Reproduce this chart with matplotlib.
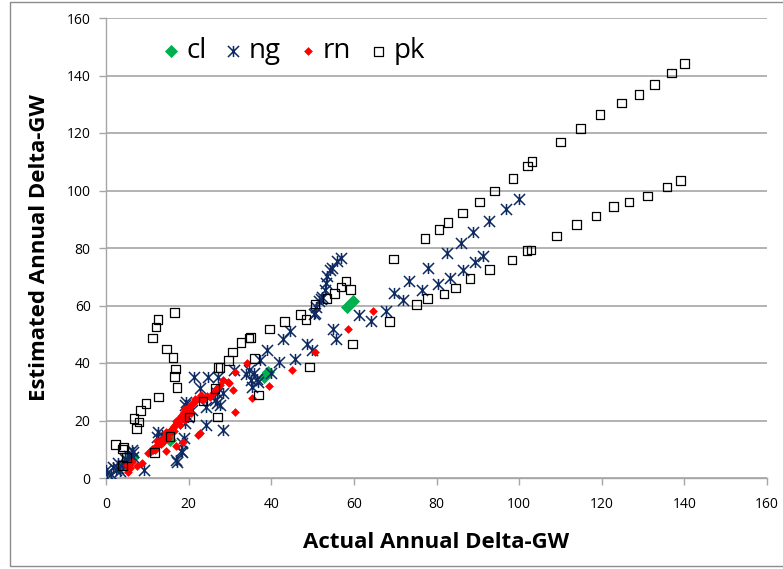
import matplotlib
matplotlib.use("Agg")
import matplotlib.pyplot as plt
from matplotlib.path import Path
from matplotlib.patches import Rectangle

plt.rcParams['font.family'] = ['Open Sans', 'DejaVu Sans']

# cl
cl_x = [58.4, 59.8, 38.3, 39.2, 15.0, 15.5, 6.5, 5.8, 5.1]
cl_y = [59.5, 61.6, 35.2, 36.9, 14.3, 13.2, 7.3, 7.0, 3.8]

# ng
ng_x = [100.0, 96.9, 92.8, 88.8, 86.0, 82.5, 77.9, 73.3, 69.8, 71.8,
        91.3, 89.4, 86.5, 83.2, 80.3, 76.5, 67.8, 64.2, 61.3,
        54.9, 55.7, 48.7, 49.9, 45.8, 41.9, 39.0, 37.3, 35.8, 39.9,
        44.5, 42.9, 36.8, 36.6, 35.4, 34.6, 35.0, 33.9, 31.0,
        56.9, 55.9, 54.8, 54.2, 53.4, 53.3, 52.9, 52.2, 51.6, 52.1,
        50.8, 50.3, 50.6,
        27.1, 24.7, 21.3, 22.8, 26.4, 27.6, 19.1, 20.8, 26.9, 28.3,
        24.2, 26.9, 19.4, 28.3, 24.2, 19.1, 19.9, 18.9, 18.4, 17.2,
        16.9, 18.2, 18.4, 12.6, 12.3, 13.6, 9.2, 6.5, 5.1, 6.3,
        6.5, 0.2, 1.7, 2.9, 4.1, 3.4, 0.0, 1.2, 2.5, 4.5, 5.5, 3.0]
ng_y = [97.0, 93.5, 89.5, 85.7, 81.6, 78.2, 73.1, 68.6, 64.5, 61.9,
        77.1, 75.0, 72.5, 69.6, 67.5, 65.5, 58.0, 54.5, 56.6,
        51.7, 48.3, 46.5, 44.5, 41.4, 40.5, 44.5, 41.0, 36.5, 36.5,
        51.2, 48.4, 33.4, 34.4, 31.6, 37.5, 34.0, 36.2, 37.6,
        76.5, 75.5, 73.0, 72.3, 70.2, 67.8, 65.4, 63.0, 61.6, 62.3,
        59.5, 57.0, 57.5,
        35.0, 35.0, 35.0, 31.3, 27.1, 25.4, 25.4, 23.7, 29.6, 29.6,
        24.7, 26.0, 26.4, 16.7, 18.4, 19.1, 21.2, 13.9, 9.0, 5.6,
        6.2, 9.4, 12.2, 16.0, 14.3, 15.0, 2.8, 9.0, 6.3, 9.7,
        7.3, 1.7, 3.8, 5.2, 4.5, 2.4, 2.8, 1.5, 2.8, 6.5, 7.5, 3.5]

# rn
rn_x = [10.7, 11.4, 12.1, 12.8, 13.6, 14.3, 15.0, 15.7, 16.5, 17.2,
        17.9, 18.6, 19.4, 20.1, 20.8, 21.8, 11.2, 12.5, 13.1, 14.0,
        14.8, 15.4, 16.1, 16.9, 17.5, 18.2, 19.0, 19.8, 20.4, 21.2,
        13.9, 15.9, 17.7, 19.6, 10.2,
        11.9, 13.4, 14.9, 16.4, 17.9, 19.2, 20.6, 12.3, 14.6, 17.0,
        19.1, 21.5, 22.4, 23.1, 18.9,
        22.3, 18.6, 16.9, 14.5, 8.7, 7.5, 5.8, 5.3, 5.1, 6.3,
        30.7, 28.3, 29.5, 34.1, 31.2, 27.6, 25.9, 23.5, 25.2, 31.2,
        35.4, 39.5, 45.0, 64.6, 58.6, 50.6, 29.8, 24.5, 22.8, 26.7,
        27.2, 22.8]
rn_y = [9.0, 9.7, 11.1, 12.2, 13.2, 14.6, 15.7, 16.7, 18.1, 19.5,
        20.9, 22.3, 23.3, 24.3, 25.7, 27.1, 10.2, 11.6, 12.9, 13.8,
        15.3, 16.2, 17.5, 18.8, 20.1, 21.5, 22.8, 23.9, 24.9, 26.4,
        12.6, 15.9, 19.9, 22.5, 8.7,
        9.6, 11.9, 14.0, 16.3, 18.5, 20.2, 22.6, 12.8, 16.0, 19.9,
        23.9, 27.5, 28.0, 28.9, 21.0,
        15.0, 12.5, 11.1, 9.4, 5.2, 4.2, 3.5, 2.1, 4.5, 5.5,
        30.6, 34.1, 33.4, 40.0, 36.9, 32.3, 29.6, 27.1, 28.2, 23.0,
        27.8, 32.0, 37.6, 58.1, 51.8, 43.8, 33.0, 28.5, 27.8, 30.8,
        31.5, 15.7]

# pk
pk_x = [140.0, 136.8, 132.7, 129.0, 124.7, 119.6, 114.8, 110.1, 103.1, 102.1,
        98.5, 94.1, 90.5, 86.2, 82.8, 80.6, 77.2, 69.5,
        139.0, 135.8, 131.0, 126.6, 122.8, 118.6, 113.8, 109.0, 102.9, 101.9,
        98.3, 92.9, 88.1, 84.6, 81.8, 77.8, 75.2, 68.7, 59.6,
        58.1, 56.9, 59.1, 55.4, 53.5, 50.6, 47.0, 48.4, 43.3, 39.5,
        34.6, 34.9, 32.7, 30.7, 29.6, 27.1, 27.6, 36.0, 37.0, 49.2,
        26.4, 23.5, 26.9, 20.3,
        16.5, 12.6, 12.1, 11.3, 14.7, 16.2, 16.9, 16.5, 17.2, 12.8,
        9.7, 8.4, 6.8, 8.0, 7.4, 15.5, 11.7, 2.3, 4.2, 3.9, 4.9, 3.9]
pk_y = [144.3, 140.9, 137.0, 133.5, 130.4, 126.3, 121.7, 116.9, 110.0, 108.5,
        104.3, 99.8, 96.0, 92.2, 89.0, 86.3, 83.4, 76.2,
        103.6, 101.2, 98.1, 96.0, 94.3, 91.1, 88.3, 84.2, 79.3, 79.0,
        75.8, 72.5, 69.3, 66.1, 64.0, 62.3, 60.3, 54.3, 46.6,
        68.5, 66.4, 65.7, 64.3, 62.3, 60.5, 57.0, 55.0, 54.3, 51.8,
        48.7, 48.9, 47.0, 43.8, 41.0, 38.3, 38.5, 41.7, 28.9, 38.6,
        31.2, 26.8, 21.2, 21.2,
        57.7, 55.0, 52.5, 48.7, 44.9, 42.0, 37.9, 35.2, 31.6, 28.2,
        26.0, 23.4, 20.8, 19.5, 17.1, 14.3, 8.9, 11.6, 10.8, 10.1, 7.0, 4.3]

ticks = [0, 20, 40, 60, 80, 100, 120, 140, 160]

# X with a vertical bar through it
star = Path([(-1, -1), (1, 1), (-1, 1), (1, -1), (0, -1), (0, 1)],
            [Path.MOVETO, Path.LINETO, Path.MOVETO, Path.LINETO,
             Path.MOVETO, Path.LINETO])

fig = plt.figure(figsize=(7.83, 5.69), dpi=100)
ax = fig.add_axes([106 / 783, 1 - 478 / 569, 661 / 783, 460 / 569])

ax.scatter(cl_x, cl_y, marker='D', s=45, color='#00B050', linewidths=0, label='cl', zorder=3)
ax.scatter(ng_x, ng_y, marker=star, s=64, color='#0E2A62', linewidths=1.1, label='ng', zorder=4)
ax.scatter(rn_x, rn_y, marker='D', s=20, color='#FF0000', linewidths=0, label='rn', zorder=5)
ax.scatter(pk_x, pk_y, marker='s', s=40, facecolors='none', edgecolors='black',
           linewidths=0.9, label='pk', zorder=6)

ax.set_xlim(0, 160)
ax.set_ylim(0, 160)
ax.set_xticks(ticks)
ax.set_yticks(ticks)
ax.grid(axis='y', color='#A6A6A6', linewidth=1.2)
ax.set_axisbelow(True)
for side in ['top', 'right']:
    ax.spines[side].set_visible(False)
for side in ['left', 'bottom']:
    ax.spines[side].set_color('#A6A6A6')
    ax.spines[side].set_linewidth(1.0)
ax.tick_params(colors='#A6A6A6', labelcolor='black', labelsize=10, length=5, width=1)
ax.tick_params(axis='x', pad=9)
ax.tick_params(axis='y', pad=6)

ax.set_xlabel('Actual Annual Delta-GW', fontsize=16, fontweight='bold', labelpad=14)
ax.set_ylabel('Estimated Annual Delta-GW', fontsize=16, fontweight='bold', labelpad=12)

ax.legend(loc='upper left', bbox_to_anchor=(0.058, 1.0), ncol=4, frameon=False,
          fontsize=20, handlelength=0.5, handletextpad=0.3, columnspacing=0.72,
          borderpad=0.2)

fig.patches.append(Rectangle((10 / 783, 3 / 569), 1.0, 564 / 569, transform=fig.transFigure,
                             fill=False, edgecolor='#8C8C8C', linewidth=1.0))

fig.savefig('out.png', dpi=100)
